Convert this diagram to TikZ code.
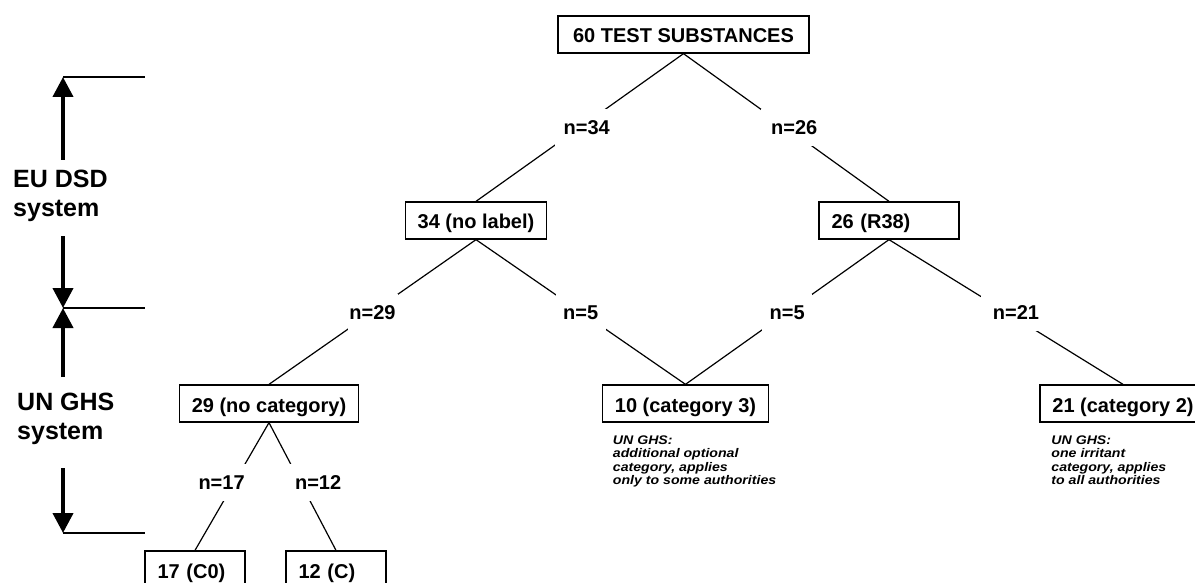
\documentclass[tikz,border=0pt]{standalone}
\usepackage{fontspec}
\setmainfont{Liberation Sans}
\newfontfamily\notefont[FakeStretch=1.13]{Liberation Sans}
\usetikzlibrary{arrows.meta}
\begin{document}
\begin{tikzpicture}[x=1pt,y=-1pt,
  every node/.style={font=\bfseries\fontsize{20}{24}\selectfont},
  box/.style={draw, line width=1.3pt, minimum height=37pt, inner xsep=12.5pt, inner ysep=0pt,
              text height=20pt, text depth=3pt},
  conn/.style={line width=1.2pt},
  nlab/.style={fill=white, inner sep=0pt, minimum width=50pt, minimum height=37pt,
               text height=14.3pt, text depth=0pt},
  note/.style={font=\notefont\bfseries\itshape\fontsize{12.5}{13.2}\selectfont, align=left,
               anchor=base west, inner sep=0pt},
  side/.style={font=\bfseries\fontsize{25}{29}\selectfont, align=left,
               anchor=base west, inner sep=0pt},
  brk/.style={line width=2.5pt},
  sysarrow/.style={line width=4pt, -{Triangle[width=20pt,length=20pt]}}
]
\useasboundingbox (0,0) rectangle (1195,583);
\clip (0,0) rectangle (1195,583);

% classification boxes
\node[box, minimum width=251pt] (top) at (683.5,34.5) {60 TEST SUBSTANCES};
\node[box] (b34) at (476,220.5) {34 (no label)};
\node[box, text width=115pt, align=left] (b26) at (889,220.5) {26 (R38)};
\node[box] (b29) at (269,403.5) {29 (no category)};
\node[box] (b10) at (685.5,403.5) {10 (category 3)};
\node[box] (b21) at (1123,403.5) {21 (category 2)};
\node[box, text width=75pt, align=left] (b17) at (195,569.5) {17 (C0)};
\node[box, text width=75pt, align=left] (b12) at (336,569.5) {12 (C)};

% branches with their counts
\draw[conn] (top.south) -- node[nlab, xshift=7pt, minimum width=64pt]{n=34} (b34.north);
\draw[conn] (top.south) -- node[nlab, xshift=8pt, minimum width=66pt]{n=26} (b26.north);
\draw[conn] (b34.south) -- node[nlab]{n=29} (b29.north);
\draw[conn] (b34.south) -- node[nlab]{n=5} (b10.north);
\draw[conn] (b26.south) -- node[nlab]{n=5} (b10.north);
\draw[conn] (b26.south) -- node[nlab, xshift=10pt, minimum width=70pt]{n=21} (b21.north);
\draw[conn] (b29.south) -- node[nlab, pos=0.465, xshift=-13pt]{n=17} (b17.north);
\draw[conn] (b29.south) -- node[nlab, pos=0.465, xshift=18pt, minimum width=60pt]{n=12} (b12.north);

% explanatory notes (anchored at the baseline of their last line)
\node[note] (note10) at ([xshift=11pt,yshift=-61.6pt]b10.south west)
  {UN GHS:\\additional optional\\category, applies\\only to some authorities};
\node[note] (note21) at ([xshift=12pt,yshift=-61.6pt]b21.south west)
  {UN GHS:\\one irritant\\category, applies\\to all authorities};

% system brackets on the left
\node[side] (eu) at (13,217) {EU DSD\\system};
\node[side] (un) at (17,439.5) {UN GHS\\system};

\coordinate (r1) at (63,77);  \coordinate (r1e) at (145,77);
\coordinate (r2) at (63,308); \coordinate (r2e) at (145,308);
\coordinate (r3) at (63,533); \coordinate (r3e) at (145,533);
\coordinate (s1) at (63,160);
\coordinate (s2) at (63,236);
\coordinate (s3) at (63,377);
\coordinate (s4) at (63,468);

\draw[brk] (r1) -- (r1e);
\draw[brk] (r2) -- (r2e);
\draw[brk] (r3) -- (r3e);
\draw[sysarrow] (s1) -- (r1);
\draw[sysarrow] (s2) -- (r2);
\draw[sysarrow] (s3) -- (r2);
\draw[sysarrow] (s4) -- (r3);
\end{tikzpicture}
\end{document}
